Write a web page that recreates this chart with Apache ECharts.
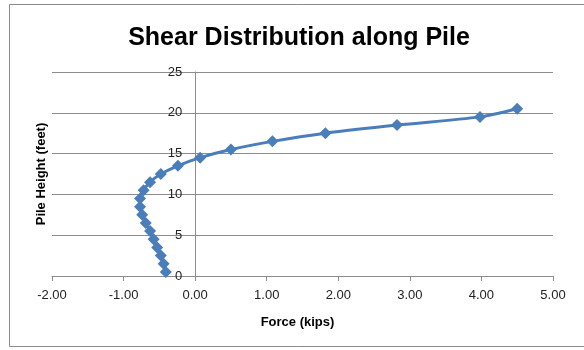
<!DOCTYPE html>
<html>
<head>
<meta charset="utf-8">
<script src="https://cdn.jsdelivr.net/npm/echarts@6/dist/echarts.min.js"></script>
<style>html,body{margin:0;padding:0;background:#fff}#c{width:584px;height:350px}</style>
</head>
<body>
<div id="c"></div>
<script>
const titleText = "Shear Distribution along Pile";
const xAxisName = "Force (kips)";
const yAxisName = "Pile Height (feet)";
const heights = [0.5, 1.5, 2.5, 3.5, 4.5, 5.5, 6.5, 7.5, 8.5, 9.5, 10.5, 11.5, 12.5, 13.5, 14.5, 15.5, 16.5, 17.5, 18.5, 19.5, 20.5];
const forces = [-0.41, -0.44, -0.48, -0.53, -0.58, -0.63, -0.69, -0.74, -0.77, -0.77, -0.72, -0.63, -0.48, -0.24, 0.07, 0.50, 1.08, 1.82, 2.82, 3.98, 4.50];
const xTicks = { min: -2, max: 5, step: 1 };
const yTicks = { min: 0, max: 25, step: 5 };

const chart = echarts.init(document.getElementById('c'), null, { renderer: 'canvas' });
const font = 'Liberation Sans';
const gridLeft = 52, gridRight = 31;
const plotW = 584 - gridLeft - gridRight;
const zeroOffset = -plotW * (0 - xTicks.min) / (xTicks.max - xTicks.min);
chart.setOption({
  animation: false,
  backgroundColor: '#fff',
  graphic: [{
    type: 'rect', shape: { x: 9.5, y: 4.5, width: 600, height: 342 },
    style: { fill: 'none', stroke: '#8a8a8a', lineWidth: 1 }, silent: true
  }],
  title: {
    text: titleText, left: 294, top: 21, textAlign: 'center',
    textStyle: { fontFamily: font, fontWeight: 'bold', fontSize: 25, color: '#000' }
  },
  grid: { left: gridLeft, right: gridRight, top: 72, bottom: 74, outerBoundsMode: 'none', containLabel: false },
  xAxis: {
    type: 'value', min: xTicks.min, max: xTicks.max, interval: xTicks.step,
    name: xAxisName, nameLocation: 'middle', nameGap: 40,
    nameTextStyle: { fontFamily: font, fontWeight: 'bold', fontSize: 13, color: '#000', padding: [0, 10, 0, 0] },
    axisLine: { onZero: false, lineStyle: { color: '#8c8c8c', width: 1 } },
    axisTick: { show: true, inside: false, length: 5, lineStyle: { color: '#8c8c8c' } },
    axisLabel: { fontFamily: font, fontSize: 13, color: '#222', margin: 13, formatter: v => v.toFixed(2) },
    splitLine: { show: false }
  },
  yAxis: {
    type: 'value', min: yTicks.min, max: yTicks.max, interval: yTicks.step,
    offset: zeroOffset,
    name: yAxisName, nameLocation: 'middle', nameGap: 147, nameRotate: 90,
    nameTextStyle: { fontFamily: font, fontWeight: 'bold', fontSize: 13, color: '#000' },
    axisLine: { show: true, onZero: false, lineStyle: { color: '#8c8c8c', width: 1 } },
    axisTick: { show: false },
    axisLabel: { fontFamily: font, fontSize: 13, color: '#222', margin: 13 },
    splitLine: { show: true, lineStyle: { color: '#8c8c8c', width: 1 } }
  },
  series: [{
    type: 'line',
    data: forces.map((f, i) => [f, heights[i]]),
    smooth: 0.3,
    symbol: 'diamond', symbolSize: 12,
    itemStyle: { color: '#4a7ebb' },
    lineStyle: { color: '#4a7ebb', width: 3 }
  }]
});
</script>
</body>
</html>
